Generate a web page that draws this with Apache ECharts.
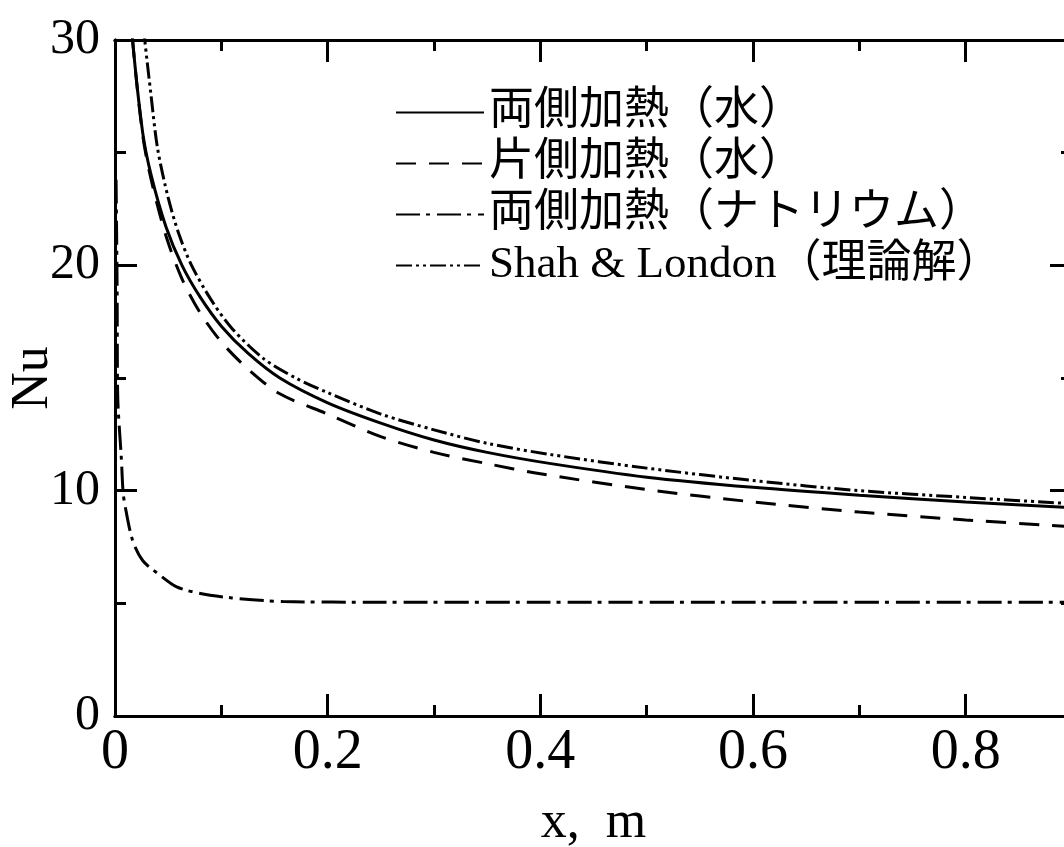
<!DOCTYPE html>
<html>
<head>
<meta charset="utf-8">
<script src="https://cdn.jsdelivr.net/npm/echarts@6/dist/echarts.min.js"></script>
<style>
  html, body { margin: 0; padding: 0; background: #fff; }
  #chart-container { width: 1064px; height: 847px; }
</style>
</head>
<body>
<div id="chart-container"></div>
<script>
// values: [x (m), Nu]
const bothSidesWater = [
  [0.012, 33.0], [0.0165, 30.0], [0.026, 25.9], [0.034, 24.0], [0.048, 21.7],
  [0.063, 20.0], [0.08, 18.6], [0.1, 17.3], [0.125, 16.1], [0.155, 15.0],
  [0.2, 13.9], [0.25, 13.0], [0.3, 12.25], [0.35, 11.7], [0.41, 11.2],
  [0.5, 10.6], [0.6, 10.15], [0.7, 9.8], [0.8, 9.5], [0.9, 9.25]
];
const oneSideWater = [
  [0.012, 33.0], [0.0165, 30.0], [0.026, 25.8], [0.034, 23.8], [0.048, 21.3],
  [0.063, 19.4], [0.08, 17.9], [0.1, 16.6], [0.125, 15.4], [0.155, 14.3],
  [0.2, 13.4], [0.25, 12.4], [0.3, 11.7], [0.35, 11.2], [0.4, 10.75],
  [0.5, 10.05], [0.6, 9.5], [0.7, 9.05], [0.8, 8.7], [0.9, 8.4]
];
const bothSidesSodium = [
  [0.001, 23.8], [0.002, 19.0], [0.0025, 14.3], [0.006, 11.4], [0.0075, 10.0],
  [0.009, 9.45], [0.0165, 7.8], [0.026, 6.9], [0.042, 6.26], [0.058, 5.73],
  [0.079, 5.45], [0.11, 5.24], [0.158, 5.08], [0.25, 5.05], [0.4, 5.05],
  [0.6, 5.05], [0.8, 5.05], [0.9, 5.05]
];
const shahLondon = [
  [0.024, 32.0], [0.028, 30.0], [0.034, 27.5], [0.04, 25.2], [0.05, 23.0],
  [0.06, 21.4], [0.072, 20.0], [0.09, 18.5], [0.11, 17.2], [0.14, 15.85],
  [0.17, 15.0], [0.2, 14.35], [0.25, 13.4], [0.3, 12.7], [0.35, 12.1],
  [0.41, 11.6], [0.5, 11.0], [0.6, 10.45], [0.7, 10.0], [0.8, 9.7], [0.9, 9.42]
];
const seriesNames = [
  "両側加熱（水）",
  "片側加熱（水）",
  "両側加熱（ナトリウム）",
  "Shah & London（理論解）"
];

const serif = "'Liberation Serif', 'Noto Sans CJK JP', serif";

const axisBase = {
  type: "value",
  min: 0,
  axisLine: { show: true, onZero: false, lineStyle: { color: "#000", width: 3 } },
  splitLine: { show: false },
};

const xAxisFor = (position, interval, tickLen, withLabels) => ({
  ...axisBase,
  position,
  max: 0.9,
  interval,
  axisTick: { show: true, inside: true, length: tickLen, lineStyle: { color: "#000", width: 3 } },
  axisLabel: withLabels
    ? { show: true, margin: 9, fontSize: 56, fontFamily: serif, color: "#000", showMaxLabel: false }
    : { show: false },
});

const yAxisFor = (position, interval, tickLen, withLabels) => ({
  ...axisBase,
  position,
  max: 30,
  interval,
  axisTick: { show: true, inside: true, length: tickLen, lineStyle: { color: "#000", width: 3 } },
  axisLabel: withLabels
    ? { show: true, margin: 15, fontSize: 50, fontFamily: serif, color: "#000" }
    : { show: false },
});

const lineSeries = (name, data, type) => ({
  name,
  type: "line",
  data,
  symbol: "none",
  smooth: 0.3,
  clip: true,
  itemStyle: { color: "#000" },
  lineStyle: { color: "#000", width: 3, type },
});

const option = {
  backgroundColor: "#fff",
  animation: false,
  grid: {
    left: 115,
    top: 40,
    width: 957,
    height: 676,
    containLabel: false,
    outerBoundsMode: "none",
  },
  legend: {
    left: 390,
    top: 85,
    orient: "vertical",
    itemWidth: 88,
    itemHeight: 14,
    itemGap: 6,
    itemStyle: { opacity: 0 },
    textStyle: { fontSize: 45, lineHeight: 45, fontFamily: serif, color: "#000" },
    data: seriesNames,
  },
  xAxis: [
    {
      ...xAxisFor("bottom", 0.2, 22, true),
      name: "x,  m",
      nameLocation: "middle",
      nameGap: 81,
      nameMoveOverlap: false,
      nameTextStyle: { fontSize: 52, fontFamily: serif, color: "#000" },
    },
    xAxisFor("bottom", 0.1, 11, false),
    xAxisFor("top", 0.2, 22, false),
    xAxisFor("top", 0.1, 11, false),
  ],
  yAxis: [
    {
      ...yAxisFor("left", 10, 22, true),
      name: "Nu",
      nameLocation: "middle",
      nameGap: 56,
      nameRotate: 90,
      nameMoveOverlap: false,
      nameTextStyle: { fontSize: 52, fontFamily: serif, color: "#000" },
    },
    yAxisFor("left", 5, 11, false),
    yAxisFor("right", 10, 22, false),
    yAxisFor("right", 5, 11, false),
  ],
  series: [
    lineSeries(seriesNames[0], bothSidesWater, "solid"),
    lineSeries(seriesNames[1], oneSideWater, [20, 13]),
    lineSeries(seriesNames[2], bothSidesSodium, [24, 6, 4, 7]),
    lineSeries(seriesNames[3], shahLondon, [16, 4, 3, 4, 3, 4]),
  ],
};

const dom = document.getElementById("chart-container");
const myChart = echarts.init(dom, null, { renderer: "canvas" });
myChart.setOption(option);
</script>
</body>
</html>
